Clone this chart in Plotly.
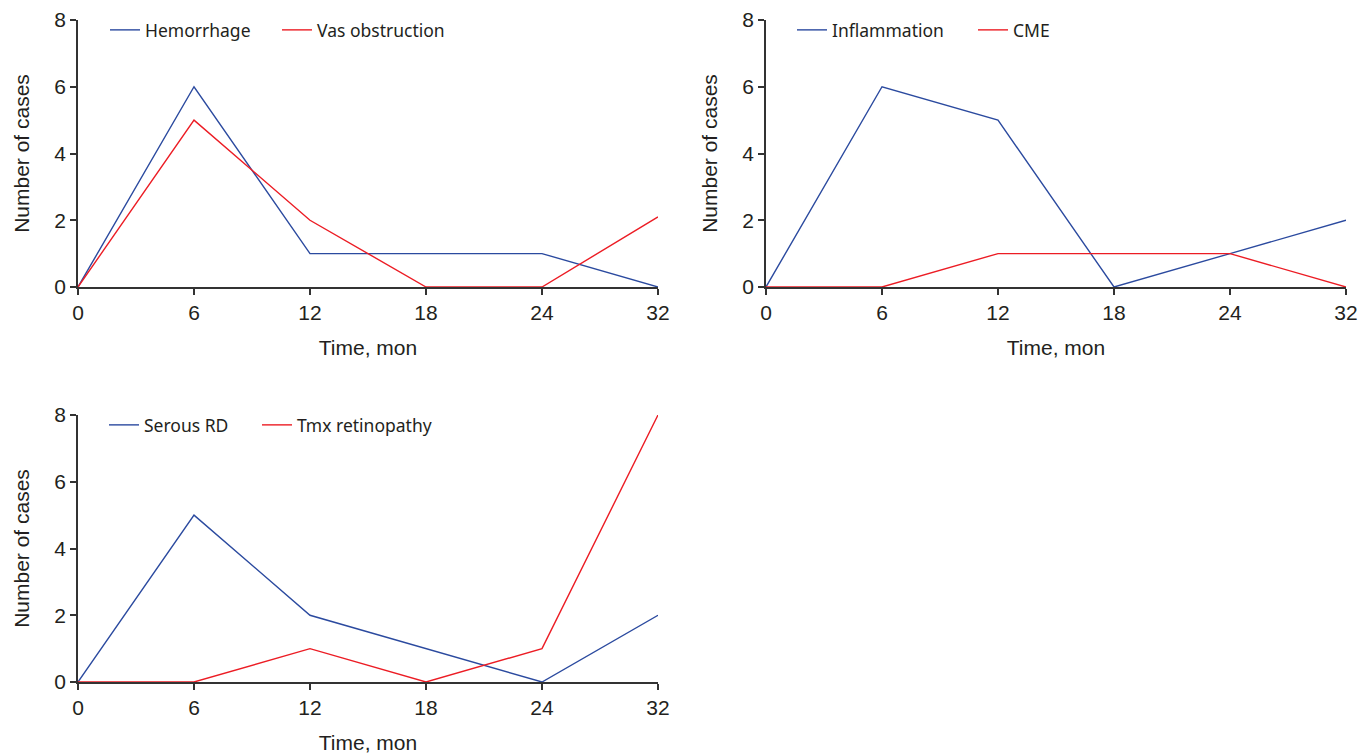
import plotly.graph_objects as go

time_labels = ["0", "6", "12", "18", "24", "32"]

hemorrhage = [0, 6, 1, 1, 1, 0]
vas_obstruction = [0, 5, 2, 0, 0, 2.1]

inflammation = [0, 6, 5, 0, 1, 2]
cme = [0, 0, 1, 1, 1, 0]

serous_rd = [0, 5, 2, 1, 0, 2]
tmx_retinopathy = [0, 0, 1, 0, 1, 8]

BLUE = "#2b4a9f"
RED = "#ec1c24"
OFF = 8  # page body margin
W, H = 1372 - OFF, 754 - OFF

def fx(px):
    return (px - OFF) / W

def fy(py):
    return 1 - (py - OFF) / H

fig = go.Figure()

# (xaxis, yaxis, values, name, color, legend id, legend text-start px, legend center y px)
series = [
    ("x", "y", hemorrhage, "Hemorrhage", BLUE, "legend", 147, 30),
    ("x", "y", vas_obstruction, "Vas obstruction", RED, "legend2", 319, 30),
    ("x2", "y2", inflammation, "Inflammation", BLUE, "legend3", 834, 30),
    ("x2", "y2", cme, "CME", RED, "legend4", 1015, 30),
    ("x3", "y3", serous_rd, "Serous RD", BLUE, "legend5", 146, 425),
    ("x3", "y3", tmx_retinopathy, "Tmx retinopathy", RED, "legend6", 299, 425),
]

legend_common = dict(orientation="h", xanchor="left", yanchor="middle",
                     font=dict(family="Noto Sans, sans-serif", size=17.5, color="#231f20"),
                     bgcolor="rgba(0,0,0,0)", borderwidth=0, itemwidth=30,
                     tracegroupgap=0)

legends = {}
for xa, ya, vals, name, color, lg, tx, ty in series:
    fig.add_trace(go.Scatter(x=time_labels, y=vals, name=name, mode="lines",
                             line=dict(color=color, width=1.4), xaxis=xa, yaxis=ya,
                             legend=lg, cliponaxis=False))
    legends[lg] = dict(x=fx(tx - 42), y=fy(ty), **legend_common)

tick_font = dict(family="Liberation Sans, Arial, sans-serif", size=21, color="#231f20")
title_font = dict(family="Liberation Sans, Arial, sans-serif", size=21, color="#231f20")

def xaxis(domain, anchor):
    return dict(domain=domain, anchor=anchor, type="category", range=[0, 5],
                automargin=False,
                showline=True, linecolor="#333333", linewidth=1.5,
                ticks="outside", ticklen=6, tickcolor="#333333", tickwidth=1.5,
                showgrid=False, zeroline=False, tickfont=tick_font,
                title=dict(text="Time, mon", font=title_font, standoff=17))

def yaxis(domain, anchor):
    return dict(domain=domain, anchor=anchor, range=[0, 8], tickvals=[0, 2, 4, 6, 8],
                automargin=False,
                showline=True, linecolor="#333333", linewidth=1.5,
                ticks="outside", ticklen=6, tickcolor="#333333", tickwidth=1.5,
                showgrid=False, zeroline=False, tickfont=tick_font,
                title=dict(text="Number of cases", font=title_font, standoff=19))

top_y = [fy(287), fy(20)]
bot_y = [fy(682), fy(415)]
left_x = [fx(78), fx(658)]
right_x = [fx(766), fx(1346)]

fig.update_layout(
    width=W, height=H, autosize=False,
    margin=dict(l=0, r=0, t=0, b=0, pad=0),
    paper_bgcolor="white", plot_bgcolor="white",
    showlegend=True,
    xaxis=xaxis(left_x, "y"), yaxis=yaxis(top_y, "x"),
    xaxis2=xaxis(right_x, "y2"), yaxis2=yaxis(top_y, "x2"),
    xaxis3=xaxis(left_x, "y3"), yaxis3=yaxis(bot_y, "x3"),
    **legends,
)

fig.write_html("out.html")
